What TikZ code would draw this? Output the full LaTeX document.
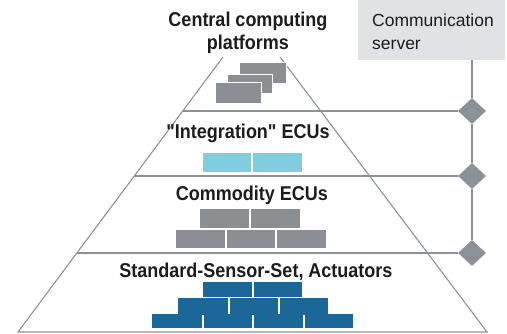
\documentclass[tikz,border=0pt]{standalone}
\usepackage{fontspec}
\setmainfont{Liberation Sans}
\newfontfamily\labelfont[FakeStretch=0.9]{Liberation Sans}
\usetikzlibrary{shapes.geometric}

\definecolor{linegray}{HTML}{8C9197}
\definecolor{brickgray}{HTML}{8B8E93}
\definecolor{ecucyan}{HTML}{80CDE0}
\definecolor{ecublue}{HTML}{1B6898}
\definecolor{boxgray}{HTML}{E1E2E4}
\definecolor{textdark}{HTML}{1C1C1C}

\tikzset{
  frame/.style={draw=linegray, line width=1.1pt},
  level/.style={font=\labelfont\bfseries\fontsize{20}{23}\selectfont, text=textdark,
                inner sep=0pt, anchor=base, align=center},
  hub/.style={diamond, fill=linegray, draw=none, inner sep=0pt,
              minimum width=28pt, minimum height=26pt},
  platform/.style={fill=brickgray, draw=white, line width=1pt},
  brick/.style={fill=#1, draw=none},
}

\begin{document}
\begin{tikzpicture}[x=1pt, y=-1pt]
  \useasboundingbox (0,0) rectangle (507,334);

  % pyramid outline
  \coordinate (apexL) at (223,57);
  \coordinate (baseL) at (18,332);
  \coordinate (apexR) at (280,57);
  \coordinate (baseR) at (487,332);
  \draw[frame] (apexL) -- (baseL) -- (baseR) -- (apexR);

  % communication server and its hubs
  \node[fill=boxgray, inner sep=0pt, minimum width=147pt, minimum height=60pt,
        anchor=north west] (server) at (358,0) {};
  \node[font=\fontsize{17.5}{23}\selectfont, text=textdark, inner sep=0pt,
        anchor=base west, align=left] (servertext) at (372,50)
        {Communication\\server};

  \node[hub] (d1) at (472,111) {};
  \node[hub] (d2) at (472,176) {};
  \node[hub] (d3) at (472,253) {};

  \draw[frame] (d1 |- server.south) -- (d1.north);
  \draw[frame] (d1.south) -- (d2.north);
  \draw[frame] (d2.south) -- (d3.north);

  % layer boundaries running out to the hubs
  \coordinate (s1) at (182.7,111);
  \coordinate (s2) at (134.3,176);
  \coordinate (s3) at (76.9,253);
  \draw[frame] (s1) -- (d1.west);
  \draw[frame] (s2) -- (d2.west);
  \draw[frame] (s3) -- (d3.west);

  % layer titles
  \node[level] (central) at (248,50) {Central computing\\platforms};
  \node[level] (integration) at (248,139) {"Integration" ECUs};
  \node[level] (commodity) at (252,201) {Commodity ECUs};
  \node[level] (sensors) at (256,278) {Standard-Sensor-Set, Actuators};

  % stacked central platforms
  \draw[platform] (239,63) rectangle (286,84);
  \draw[platform] (227,75) rectangle (272,94);
  \draw[platform] (215,83) rectangle (261,104);

  % integration ECUs
  \fill[brick=ecucyan] (203,153) rectangle (251,172);
  \fill[brick=ecucyan] (253,153) rectangle (302,172);

  % commodity ECUs
  \fill[brick=brickgray] (200,209) rectangle (249,228);
  \fill[brick=brickgray] (251,209) rectangle (300,228);
  \fill[brick=brickgray] (176,230) rectangle (225,248);
  \fill[brick=brickgray] (227,230) rectangle (275,248);
  \fill[brick=brickgray] (277,230) rectangle (326,248);

  % sensors and actuators
  \fill[brick=ecublue] (203,282) rectangle (252,297);
  \fill[brick=ecublue] (254,282) rectangle (302,297);
  \fill[brick=ecublue] (178,298) rectangle (228,315);
  \fill[brick=ecublue] (230,298) rectangle (278,315);
  \fill[brick=ecublue] (280,298) rectangle (328,315);
  \fill[brick=ecublue] (152,314) rectangle (202,328);
  \fill[brick=ecublue] (203.5,314) rectangle (252,328);
  \fill[brick=ecublue] (253.5,314) rectangle (303,328);
  \fill[brick=ecublue] (304.5,314) rectangle (353,328);
\end{tikzpicture}
\end{document}
